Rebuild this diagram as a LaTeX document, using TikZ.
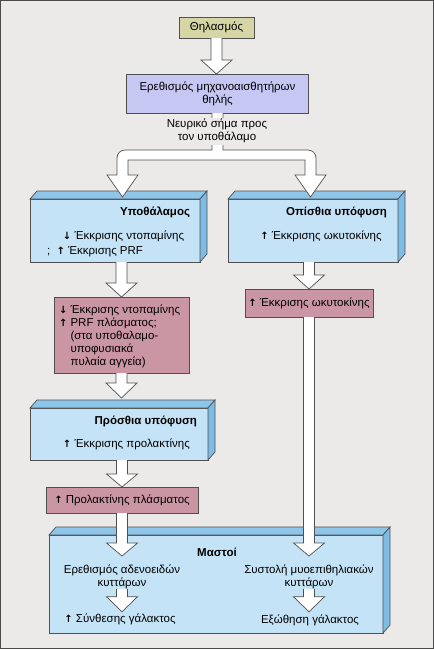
\documentclass[tikz,border=0pt]{standalone}
\usepackage{fontspec}
\setmainfont{Liberation Sans}
\newfontfamily\arrfont{DejaVu Sans}
\usetikzlibrary{calc}
\definecolor{bgc}{HTML}{ECEAE8}
\definecolor{framec}{HTML}{4A4A4A}
\definecolor{olivec}{HTML}{D6D5A6}
\definecolor{lavc}{HTML}{C6C7F3}
\definecolor{pinkc}{HTML}{CB96A3}
\definecolor{frontc}{HTML}{C5E3F7}
\definecolor{topc}{HTML}{8EC6EA}
\definecolor{sidec}{HTML}{7DBCE5}
\definecolor{linec}{HTML}{505050}
\newcommand{\upar}{{\arrfont\bfseries\fontsize{10}{10}\selectfont ↑}}
\newcommand{\dnar}{{\arrfont\bfseries\fontsize{10}{10}\selectfont ↓}}
\tikzset{
  boxline/.style={draw=linec, line width=0.7pt},
  plainbox/.style={boxline, inner sep=0pt, outer sep=0pt, align=center, font=\fontsize{11.5}{13}\selectfont},
  frontbox/.style={boxline, fill=frontc, inner sep=0pt, outer sep=0pt},
  txt/.style={inner sep=0pt, outer sep=0pt, font=\fontsize{11.5}{13}\selectfont, text=black},
  ttl/.style={txt, font=\fontsize{11.5}{13}\selectfont\bfseries},
  arrowline/.style={draw=linec, fill=white, line width=0.7pt, line join=miter},
}
\newcommand{\blockarrow}[3][14]{%
  \draw[arrowline] let \p1=(#2), \p2=(#3) in
   (\x1-5.5pt,\y1) -- (\x1-5.5pt,\y2+#1pt) -- (\x1-15.5pt,\y2+#1pt) -- (\x1,\y2)
   -- (\x1+15.5pt,\y2+#1pt) -- (\x1+5.5pt,\y2+#1pt) -- (\x1+5.5pt,\y1);
}
\newcommand{\slabfaces}[1]{%
  \draw[boxline,fill=topc] (#1.north west) -- ++(7,-8) -- ($(#1.north east)+(7,-8)$) -- (#1.north east) -- cycle;
  \draw[boxline,fill=sidec] (#1.north east) -- ++(7,-8) -- ($(#1.south east)+(7,-8)$) -- (#1.south east) -- cycle;
}
\begin{document}
\begin{tikzpicture}[x=1pt,y=-1pt]
\useasboundingbox (0,0) rectangle (434,649);
\draw[draw=framec, fill=bgc, line width=1.2pt] (0.6,0.6) rectangle (433.4,648.4);

% top boxes
\node[plainbox, fill=olivec, minimum width=75pt, minimum height=21pt] (suck) at (216.5,27.5) {Θηλασμός};
\node[plainbox, fill=lavc, minimum width=182pt, minimum height=39pt] (stim) at (217.5,93.5) {Ερεθισμός μηχανοαισθητήρων\\θηλής};

% slabs
\node[frontbox, minimum width=170pt, minimum height=63pt] (hyp) at (115,230.5) {};
\slabfaces{hyp}
\node[frontbox, minimum width=170pt, minimum height=63pt] (post) at (313,230.5) {};
\slabfaces{post}
\node[frontbox, minimum width=178pt, minimum height=52pt] (ant) at (119,434) {};
\slabfaces{ant}
\node[frontbox, minimum width=334pt, minimum height=98pt] (mast) at (216,584) {};
\slabfaces{mast}

% pink boxes
\node[plainbox, fill=pinkc, minimum width=135pt, minimum height=76pt] (pinkL) at (121.5,335) {};
\node[plainbox, fill=pinkc, minimum width=128pt, minimum height=28pt] (pinkR) at (309,303) {\upar\ Έκκρισης ωκυτοκίνης};
\node[plainbox, fill=pinkc, minimum width=152pt, minimum height=26pt] (prl) at (122,500) {\upar\ Προλακτίνης πλάσματος};

% texts
\node[ttl, anchor=east] (hypT) at (190,212) {Υποθάλαμος};
\node[txt, anchor=west] (hyp1) at (63,236) {\dnar\ Έκκρισης ντοπαμίνης};
\node[txt, anchor=west] (hyp2) at (47,252) {;\ \ \upar\ Έκκρισης PRF};
\node[ttl, anchor=east] (postT) at (387,212) {Οπίσθια υπόφυση};
\node[txt] (post1) at (321,236) {\upar\ Έκκρισης ωκυτοκίνης};
\node[txt, anchor=west, align=left, font=\fontsize{11.5}{13}\selectfont] (pinkLt) at (59,336)
  {\dnar\ Έκκρισης ντοπαμίνης\\\upar\ PRF πλάσματος;\\\hphantom{\upar\ }(στα υποθαλαμο-\\\hphantom{\upar\ }υποφυσιακά\\\hphantom{\upar\ }πυλαία αγγεία)};
\node[ttl, anchor=east] (antT) at (197,421) {Πρόσθια υπόφυση};
\node[txt, anchor=west] (ant1) at (63,444) {\upar\ Έκκρισης προλακτίνης};
\node[ttl] (mastT) at (217,552) {Μαστοί};
\node[txt, align=center, font=\fontsize{11.5}{12.5}\selectfont] (mL) at (122,577) {Ερεθισμός αδενοειδών\\κυττάρων};
\node[txt] (mLr) at (120,619) {\upar\ Σύνθεσης γάλακτος};
\node[txt, align=center, font=\fontsize{11.5}{12.5}\selectfont] (mR) at (309,577) {Συστολή μυοεπιθηλιακών\\κυττάρων};
\node[txt] (mRr) at (310,620) {Εξώθηση γάλακτος};

% block arrows
\blockarrow{suck.south}{stim.north}
\draw[arrowline] ($(stim.south)+(-5.5,0)$) -- ++(0,37) -- ++(-87,0) to[out=180,in=90] ++(-8,8)
  -- ++(0,17) -- ++(-10,0) -- ++(15.5,22) -- ++(15.5,-22) -- ++(-10,0) -- ++(0,-15)
  -- ++(177,0) -- ++(0,15) -- ++(-10,0) -- ++(15.5,22) -- ++(15.5,-22) -- ++(-10,0)
  -- ++(0,-17) to[out=90,in=0] ++(-8,-8) -- ++(-85,0) -- ++(0,-37);
\node[txt, fill=bgc, align=center, inner xsep=2pt, minimum height=27pt, font=\fontsize{11.5}{12.5}\selectfont] (nerve) at (217,131) {Νευρικό σήμα προς\\τον υποθάλαμο};
\blockarrow{pinkL.north |- hyp.south}{pinkL.north}
\blockarrow{pinkR.north |- post.south}{pinkR.north}
\blockarrow[13]{pinkR.south}{$(pinkR.south |- mast.north)+(0,21)$}
\blockarrow[15]{pinkL.south}{$(pinkL.south |- ant.north)+(0,-10)$}
\blockarrow[13]{prl.north |- ant.south}{prl.north}
\blockarrow[13]{prl.south}{$(prl.south |- mast.north)+(0,21)$}
\blockarrow[15]{mL.south}{$(mL.south)+(0,23)$}
\blockarrow[15]{mR.south}{$(mR.south)+(0,23)$}
\end{tikzpicture}
\end{document}
